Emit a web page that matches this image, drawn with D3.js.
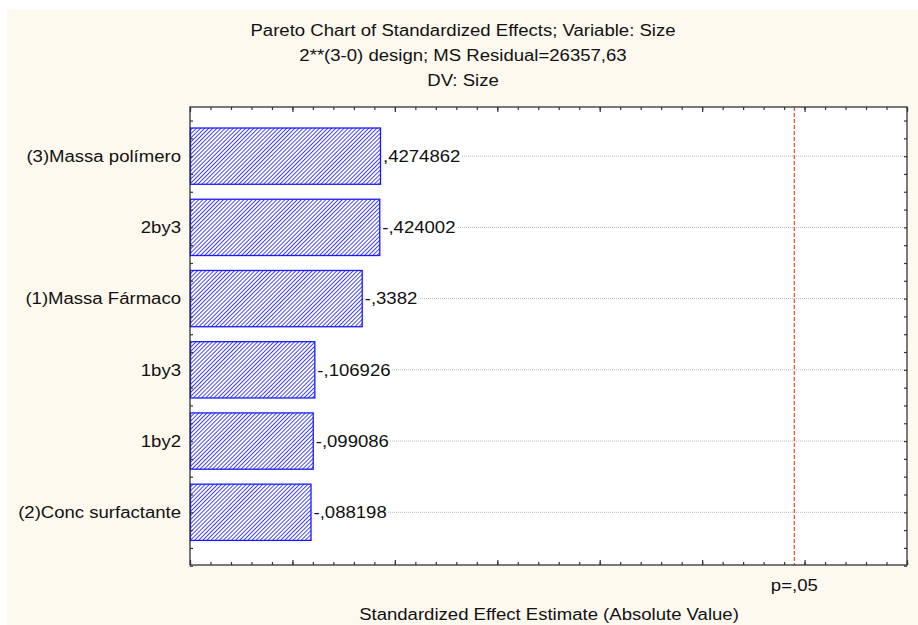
<!DOCTYPE html>
<html>
<head>
<meta charset="utf-8">
<script src="https://cdn.jsdelivr.net/npm/d3@7"></script>
<style>
  html, body { margin: 0; padding: 0; background: #ffffff; }
  svg { display: block; font-family: "Liberation Sans", Arial, sans-serif; }
</style>
</head>
<body>
<svg id="chart" width="918" height="625"></svg>
<script>
// Effects, sorted by absolute standardized value
const effects = ["(3)Massa polímero", "2by3", "(1)Massa Fármaco", "1by3", "1by2", "(2)Conc surfactante"];
const effectValues = [0.4274862, -0.424002, -0.3382, -0.106926, -0.099086, -0.088198];
const effectLabels = [",4274862", "-,424002", "-,3382", "-,106926", "-,099086", "-,088198"];
const criticalValue = 2.45;
const criticalLabel = "p=,05";
const titleLines = [
  "Pareto Chart of Standardized Effects; Variable: Size",
  "2**(3-0) design; MS Residual=26357,63",
  "DV: Size"
];
const xTitle = "Standardized Effect Estimate (Absolute Value)";

const W = 918, H = 625;
const frame = { left: 190, right: 907, top: 107, bottom: 565 };
const FONT = 16, STRETCH = 1.16;

const svg = d3.select("#chart");

// text helper: wide sans face, as in the original graph window
function label(parent, x, y, str, anchor) {
  const g = parent.append("g").attr("transform", `translate(${x},${y}) scale(${STRETCH},1)`);
  g.append("text")
    .attr("text-anchor", anchor || "start")
    .attr("dy", "0.36em")
    .attr("font-size", FONT).attr("fill", "#111")
    .text(str);
  return g;
}

// cream background panel
svg.append("rect")
  .attr("x", 7).attr("y", 10).attr("width", W - 7).attr("height", H - 10)
  .attr("fill", "#fef9ee");

// hatch pattern for bars
const defs = svg.append("defs");
const pat = defs.append("pattern")
  .attr("id", "hatch").attr("patternUnits", "userSpaceOnUse")
  .attr("width", 2.9).attr("height", 2.9)
  .attr("patternTransform", "rotate(45)");
pat.append("rect").attr("width", 2.9).attr("height", 2.9).attr("fill", "#ffffff");
pat.append("line").attr("x1", 0).attr("y1", 0).attr("x2", 0).attr("y2", 2.9)
  .attr("stroke", "#2f2fff").attr("stroke-width", 1.8);

// plot area
svg.append("rect")
  .attr("x", frame.left).attr("y", frame.top)
  .attr("width", frame.right - frame.left).attr("height", frame.bottom - frame.top)
  .attr("fill", "#ffffff");

const x = d3.scaleLinear().domain([-0.5, 3.0]).range([frame.left, frame.right]);
const y = d3.scaleLinear().domain([0.31, 6.74]).range([frame.top, frame.bottom]);
const barH = 0.79; // in category units

const rows = effects.map((name, i) => ({
  name, value: effectValues[i], label: effectLabels[i], pos: i + 1
}));

// dotted horizontal gridlines at each effect
svg.append("g").selectAll("line").data(rows).join("line")
  .attr("x1", frame.left).attr("x2", frame.right)
  .attr("y1", d => y(d.pos)).attr("y2", d => y(d.pos))
  .attr("stroke", "#b8b8b8").attr("stroke-width", 1)
  .attr("stroke-dasharray", "1,1");

// bars (absolute values)
svg.append("g").selectAll("rect").data(rows).join("rect")
  .attr("x", x.range()[0] + 0.5)
  .attr("y", d => y(d.pos - barH / 2))
  .attr("width", d => x(Math.abs(d.value)) - x.range()[0])
  .attr("height", d => y(d.pos + barH / 2) - y(d.pos - barH / 2))
  .attr("fill", "url(#hatch)")
  .attr("stroke", "#1a1aff").attr("stroke-width", 1.3);

// value labels next to bars, on a white strip that hides the gridline
const valG = svg.append("g");
rows.forEach(d => {
  const g = label(valG, x(Math.abs(d.value)) + 3, y(d.pos), d.label);
  const bb = g.select("text").node().getBBox();
  g.insert("rect", "text")
    .attr("x", bb.x).attr("y", -2).attr("width", bb.width + 1).attr("height", 4)
    .attr("fill", "#ffffff");
});

// critical value line
svg.append("line")
  .attr("x1", x(criticalValue)).attr("x2", x(criticalValue))
  .attr("y1", frame.top).attr("y2", frame.bottom)
  .attr("stroke", "#ff4a4a").attr("stroke-width", 1.3)
  .attr("stroke-dasharray", "4,2");

// frame
svg.append("rect")
  .attr("x", frame.left).attr("y", frame.top)
  .attr("width", frame.right - frame.left).attr("height", frame.bottom - frame.top)
  .attr("fill", "none").attr("stroke", "#333").attr("stroke-width", 1.3);

// inward ticks on all four sides
function ticks(axis, tx, ty) {
  svg.append("g").attr("transform", `translate(${tx},${ty})`).call(axis)
    .call(g => g.select(".domain").remove())
    .call(g => g.selectAll("line").attr("stroke", "#333").attr("stroke-width", 1.2));
}
const xMajor = d3.range(-0.5, 3.0001, 0.5);
const xMinor = d3.range(-0.5, 3.0001, 0.1);
ticks(d3.axisBottom(x).tickValues(xMinor).tickFormat("").tickSizeInner(-3).tickSizeOuter(0), 0, frame.bottom);
ticks(d3.axisBottom(x).tickValues(xMajor).tickFormat("").tickSizeInner(-5).tickSizeOuter(0), 0, frame.bottom);
ticks(d3.axisTop(x).tickValues(xMinor).tickFormat("").tickSizeInner(-3).tickSizeOuter(0), 0, frame.top);
ticks(d3.axisTop(x).tickValues(xMajor).tickFormat("").tickSizeInner(-5).tickSizeOuter(0), 0, frame.top);

const yTicks = d3.range(0.5, 6.7501, 0.25);
ticks(d3.axisLeft(y).tickValues(yTicks).tickFormat("").tickSizeInner(-3).tickSizeOuter(0), frame.left, 0);
ticks(d3.axisRight(y).tickValues(yTicks).tickFormat("").tickSizeInner(-3).tickSizeOuter(0), frame.right, 0);

// effect names
const nameG = svg.append("g");
rows.forEach(d => label(nameG, frame.left - 9, y(d.pos), d.name, "end"));

// critical value caption
label(svg, x(criticalValue), 585, criticalLabel, "middle");

// x axis title
label(svg, 549, 614, xTitle, "middle");

// titles
titleLines.forEach((t, i) => label(svg, 463, 30 + i * 25, t, "middle"));
</script>
</body>
</html>
